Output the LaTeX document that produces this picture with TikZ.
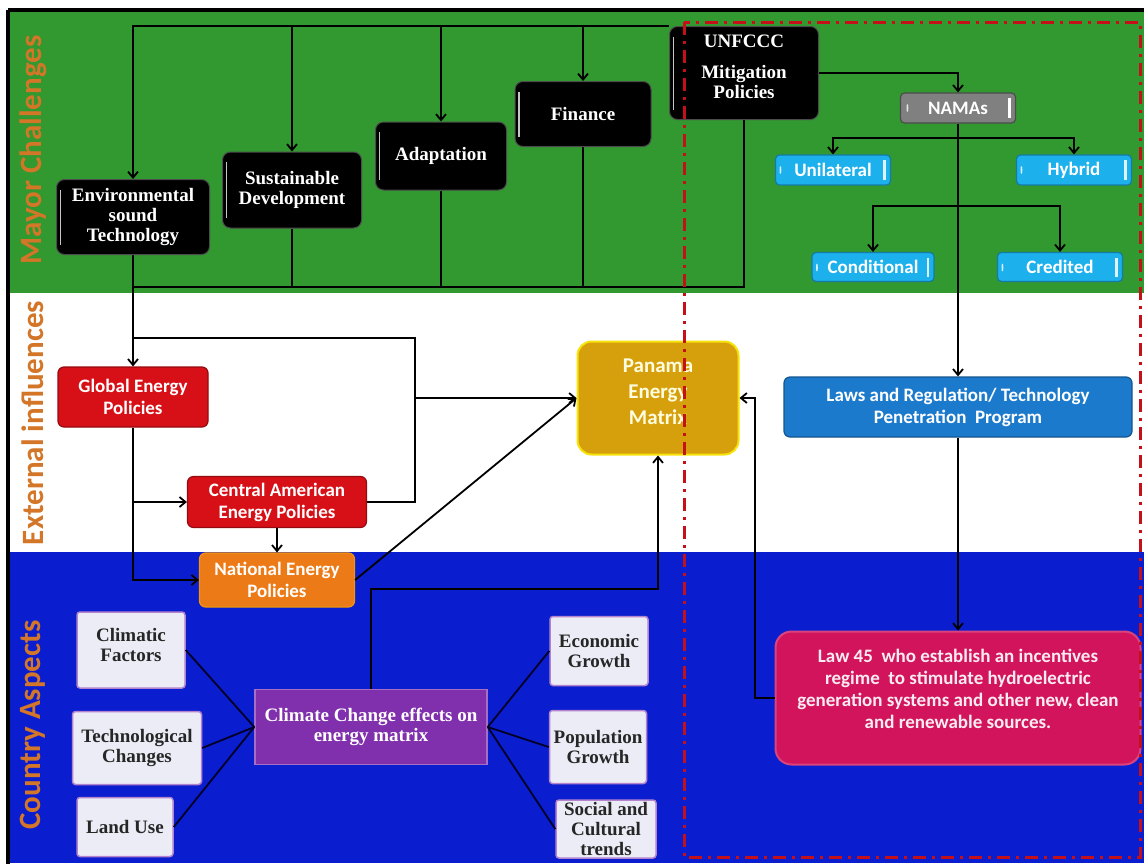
\documentclass[tikz,border=0pt]{standalone}
\usepackage{fontspec}
\setmainfont{Liberation Serif}
\newfontfamily\carl{Carlito}
\usetikzlibrary{arrows.meta,calc}
\definecolor{bandgreen}{RGB}{50,152,48}
\definecolor{bandblue}{RGB}{10,30,208}
\definecolor{redbox}{RGB}{214,16,22}
\definecolor{orangebox}{RGB}{236,122,22}
\definecolor{goldbox}{RGB}{214,160,12}
\definecolor{lawsblue}{RGB}{28,122,204}
\definecolor{lawmag}{RGB}{210,20,92}
\definecolor{purplebox}{RGB}{128,48,172}
\definecolor{lightbox}{RGB}{236,236,246}
\definecolor{cyanbox}{RGB}{28,176,236}
\definecolor{grayboxc}{RGB}{128,128,128}
\definecolor{secorange}{RGB}{212,118,40}
\definecolor{dashred}{RGB}{196,16,24}
\tikzset{
  conn/.style={line width=1.8pt, black},
  arr/.style={conn, -{Straight Barb[length=6pt,width=10pt,line width=1.8pt]}},
  blackbox/.style={fill=black, draw=black!70, line width=1pt, rounded corners=8pt,
    text=white, align=center, font=\bfseries\fontsize{19}{20}\selectfont,
    inner sep=2pt,
    path picture={\draw[gray!45,line width=1.6pt]
      ([xshift=4pt,yshift=-10pt]path picture bounding box.north west) --
      ([xshift=4pt,yshift=10pt]path picture bounding box.south west);}},
  sansbox/.style={rounded corners=6pt, text=white, align=center,
    font=\carl\bfseries\fontsize{19}{22}\selectfont, inner sep=2pt, line width=1.2pt},
  tagbox/.style={sansbox, fill=cyanbox, draw=cyanbox!70!black, rounded corners=4pt,
    font=\carl\bfseries\fontsize{19}{20}\selectfont,
    path picture={\draw[white!85!cyanbox,line width=2.5pt]
      ([xshift=-6pt,yshift=-5pt]path picture bounding box.north east) --
      ([xshift=-6pt,yshift=5pt]path picture bounding box.south east);
      \fill[white!80!cyanbox] ([xshift=4pt,yshift=-9pt]path picture bounding box.north west) --
      ([xshift=7pt,yshift=-15pt]path picture bounding box.north west) --
      ([xshift=4pt,yshift=-21pt]path picture bounding box.north west) -- cycle;}},
  lightnode/.style={fill=lightbox, draw=purplebox!60, line width=1.5pt, rounded corners=3pt,
    align=center, font=\bfseries\fontsize{19}{20}\selectfont, text=black!85, inner sep=1pt},
  seclabel/.style={rotate=90, text=secorange, font=\carl\bfseries\fontsize{31}{33}\selectfont}
}
\begin{document}
\begin{tikzpicture}[x=1pt,y=-1pt]
\useasboundingbox (0,0) rectangle (1144,863);
% background bands
\fill[white] (0,0) rectangle (1144,863);
\fill[bandgreen] (10,12) rectangle (1144,293);
\fill[white] (10,293) rectangle (1144,552);
\fill[bandblue] (10,552) rectangle (1144,863);
\draw[black, line width=4pt] (8,10) -- (1150,10);
\draw[black, line width=4pt] (8,10) -- (8,870);
% section labels
\node[seclabel] (lblMC) at (33,150) {Mayor Challenges};
\node[seclabel] (lblEI) at (33,423) {External influences};
\node[seclabel] (lblCA) at (33,725) {Country Aspects};

% major challenges
\node[blackbox, minimum width=153pt, minimum height=75pt] (env) at (133,217) {Environmental\\sound\\Technology};
\node[blackbox, minimum width=139pt, minimum height=76pt] (sus) at (292,190) {Sustainable\\Development};
\node[blackbox, minimum width=131pt, minimum height=68pt] (ada) at (441,156) {Adaptation};
\node[blackbox, minimum width=136pt, minimum height=65pt] (fin) at (583,114) {Finance};
\node[blackbox, minimum width=149pt, minimum height=93pt] (unf) at (744,73)
  {UNFCCC\\[11pt]Mitigation\\Policies\\[-8pt]};

% NAMAs
\node[sansbox, fill=grayboxc, draw=gray!60!black, rounded corners=4pt, minimum width=115pt, minimum height=30pt,
  font=\carl\bfseries\fontsize{19}{20}\selectfont,
  path picture={\draw[white!85,line width=2.5pt]
      ([xshift=-6pt,yshift=-5pt]path picture bounding box.north east) --
      ([xshift=-6pt,yshift=5pt]path picture bounding box.south east);
      \fill[white!80!gray] ([xshift=6pt,yshift=-9pt]path picture bounding box.north west) --
      ([xshift=9pt,yshift=-15pt]path picture bounding box.north west) --
      ([xshift=6pt,yshift=-21pt]path picture bounding box.north west) -- cycle;}] (nam) at (958,108) {NAMAs};
\node[tagbox, minimum width=115pt, minimum height=30pt] (uni) at (833,170) {Unilateral};
\node[tagbox, minimum width=115pt, minimum height=30pt] (hyb) at (1074,170) {Hybrid};
\node[tagbox, minimum width=122pt, minimum height=29pt] (cond) at (873,267) {Conditional};
\node[tagbox, minimum width=125pt, minimum height=29pt] (cred) at (1060,267) {Credited};

% external influences
\node[sansbox, fill=redbox, draw=redbox!70!black, minimum width=150pt, minimum height=60pt] (glob) at (133,397) {Global Energy\\Policies};
\node[sansbox, fill=redbox, draw=redbox!70!black, minimum width=179pt, minimum height=51pt] (cam) at (277,502) {Central American\\Energy Policies};
\node[sansbox, fill=orangebox, draw=orangebox!80!yellow, minimum width=155pt, minimum height=54pt] (nat) at (277,580) {National Energy\\Policies};
\node[sansbox, fill=goldbox, draw=yellow!80!goldbox, line width=2pt, rounded corners=14pt,
  minimum width=161pt, minimum height=113pt, text=yellow!12,
  font=\carl\bfseries\fontsize{21}{26}\selectfont] (pan) at (658,398) {Panama\\Energy\\Matrix\\[-14pt]};
\node[sansbox, fill=lawsblue, draw=lawsblue!70!black, minimum width=348pt, minimum height=60pt] (laws) at (958,407)
  {Laws and Regulation/ Technology\\Penetration\ \ Program};

% country aspects
\node[sansbox, fill=lawmag, draw=lawmag!80!white, line width=2pt, rounded corners=16pt,
  minimum width=365pt, minimum height=133pt, text=white!92!lawmag,
  font=\carl\bfseries\fontsize{19}{22}\selectfont] (law45) at (958,698)
  {Law 45\ \ who establish an incentives\\regime\ \ to stimulate hydroelectric\\generation systems and other new, clean\\and renewable sources.\\[-4pt]};
\node[fill=purplebox, draw=purplebox!70!white, line width=1.5pt, text=white, align=center,
  font=\bfseries\fontsize{19}{20}\selectfont, minimum width=232pt, minimum height=75pt, inner sep=2pt] (cce) at (371,727)
  {Climate Change effects on\\energy matrix};
\node[lightnode, minimum width=108pt, minimum height=76pt] (clim) at (131,650) {Climatic\\Factors\\[-10pt]};
\node[lightnode, minimum width=129pt, minimum height=73pt] (tech) at (137,748) {Technological\\Changes};
\node[lightnode, minimum width=96pt, minimum height=59pt] (land) at (125,827) {Land Use};
\node[lightnode, minimum width=98pt, minimum height=69pt] (econ) at (599,651) {Economic\\Growth};
\node[lightnode, minimum width=97pt, minimum height=73pt] (pop) at (598,747) {Population\\Growth};
\node[lightnode, minimum width=100pt, minimum height=58pt] (soc) at (606,829) {Social and\\Cultural\\trends};

% coordinates
\coordinate (bb) at (133,287);
\coordinate (jA) at (133,338);
\coordinate (jB) at (415,338);
\coordinate (cpk) at (658,589);
\coordinate (lk) at (755,698);
\coordinate (n1) at (958,138);
\coordinate (n2) at (958,206);

% top bus
\draw[arr] (unf.north west) -| (env.north);
\draw[arr] (sus.north |- unf.north west) -- (sus.north);
\draw[arr] (ada.north |- unf.north west) -- (ada.north);
\draw[arr] (fin.north |- unf.north west) -- (fin.north);
% bottom bus
\draw[conn] (unf.south) |- (bb);
\draw[conn] (sus.south) -- (sus.south |- bb);
\draw[conn] (ada.south) -- (ada.south |- bb);
\draw[conn] (fin.south) -- (fin.south |- bb);
\draw[arr] (env.south) -- (glob.north);
% external
\draw[conn] (jA) -- (jB) |- (cam.east);
\draw[arr] (jB |- pan.west) -- (pan.west);
\draw[arr] (glob.south) |- (nat.west);
\draw[arr] (glob.south |- cam.west) -- (cam.west);
\draw[arr] (cam.south) -- (nat.north);
\draw[arr] (nat.east) -- (pan.west);
\draw[arr] (cce.north) |- (cpk) -- (pan.south);
\draw[arr] (law45.west) -- (lk) |- (pan.east);
% NAMAs
\draw[arr] (unf.east) -| (nam.north);
\draw[arr] (nam.south) -- (laws.north);
\draw[arr] (n1) -| (uni.north);
\draw[arr] (n1) -| (hyb.north);
\draw[arr] (n2) -| (cond.north);
\draw[arr] (n2) -| (cred.north);
\draw[arr] (laws.south) -- (law45.north);
% country aspects links
\draw[conn, black!85!blue] (clim.east) -- (cce.west);
\draw[conn, black!85!blue] (tech.east) -- (cce.west);
\draw[conn, black!85!blue] (land.east) -- (cce.west);
\draw[conn, black!85!blue] (econ.west) -- (cce.east);
\draw[conn, black!85!blue] (pop.west) -- (cce.east);
\draw[conn, black!85!blue] (soc.west) -- (cce.east);

% red dash-dot frame
\draw[dashred, line width=3pt, dash pattern=on 13pt off 6pt on 3pt off 6pt] (684,22) rectangle (1140,857);
\end{tikzpicture}
\end{document}
